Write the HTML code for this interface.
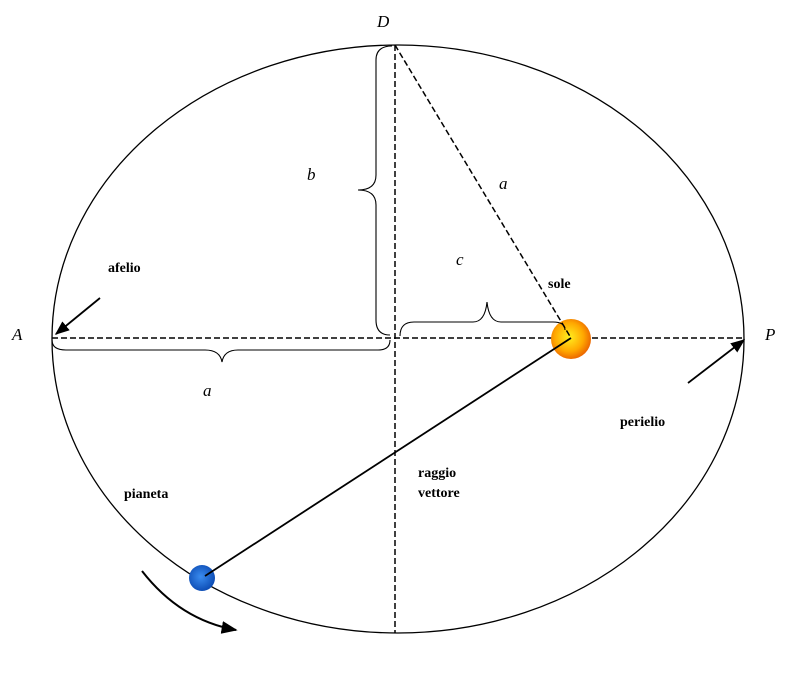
<!DOCTYPE html>
<html><head><meta charset="utf-8"><style>
html,body{margin:0;padding:0;background:#fff}
svg{display:block}
.it{font-family:"Liberation Serif",serif;font-style:italic;font-size:17px}
.lb{font-family:"Liberation Serif",serif;font-size:14px;font-weight:bold}
</style></head><body>
<svg width="800" height="678" viewBox="0 0 800 678">
<defs>
<radialGradient id="sun" cx="0.45" cy="0.45" r="0.6"><stop offset="0" stop-color="#ffef20"/><stop offset="0.6" stop-color="#ffa800"/><stop offset="1" stop-color="#e85a00"/></radialGradient>
<radialGradient id="pl" cx="0.45" cy="0.45" r="0.6"><stop offset="0" stop-color="#3a8cf0"/><stop offset="1" stop-color="#0a48b0"/></radialGradient>
<marker id="ah" viewBox="0 0 10 10" refX="9" refY="5" markerWidth="8" markerHeight="8" orient="auto"><path d="M0,1 L10,5 L0,9 Z" fill="#000"/></marker>
</defs>
<ellipse cx="398" cy="339" rx="346" ry="294" fill="none" stroke="#000" stroke-width="1.3"/>
<line x1="52" y1="338" x2="745" y2="338" stroke="#000" stroke-width="1.5" stroke-dasharray="6,3"/>
<line x1="395" y1="45" x2="395" y2="633" stroke="#000" stroke-width="1.5" stroke-dasharray="6,3"/>
<circle cx="571" cy="339" r="20" fill="url(#sun)"/>
<circle cx="202" cy="578" r="13" fill="url(#pl)"/>
<line x1="395" y1="45" x2="571" y2="338" stroke="#000" stroke-width="1.5" stroke-dasharray="6,3"/>
<line x1="571" y1="338" x2="205" y2="576" stroke="#000" stroke-width="1.8"/>
<path d="M392,46 Q376,46 376,60 L376,175 Q376,190 358,190 Q376,190 376,205 L376,320 Q376,335 390,335" fill="none" stroke="#000" stroke-width="1.1"/>
<path d="M52,340 Q52,350 66,350 L205,350 Q220,350 222,362 Q224,350 238,350 L378,350 Q390,350 390,340" fill="none" stroke="#000" stroke-width="1.1"/>
<path d="M400,336 Q400,322 414,322 L473,322 Q485,322 487,302 Q489,322 501,322 L553,322 Q565,322 565,330" fill="none" stroke="#000" stroke-width="1.1"/>
<line x1="100" y1="298" x2="56" y2="334" stroke="#000" stroke-width="1.8" marker-end="url(#ah)"/>
<line x1="688" y1="383" x2="744" y2="340" stroke="#000" stroke-width="1.8" marker-end="url(#ah)"/>
<path d="M142,571 Q180,620 236,630" fill="none" stroke="#000" stroke-width="2" marker-end="url(#ah)"/>
<text class="it" x="377" y="27">D</text>
<text class="it" x="12" y="340">A</text>
<text class="it" x="765" y="340">P</text>
<text class="it" x="307" y="180">b</text>
<text class="it" x="499" y="189">a</text>
<text class="it" x="456" y="265">c</text>
<text class="it" x="203" y="396">a</text>
<text class="lb" x="108" y="272">afelio</text>
<text class="lb" x="548" y="288">sole</text>
<text class="lb" x="620" y="426">perielio</text>
<text class="lb" x="124" y="498">pianeta</text>
<text class="lb" x="418" y="477">raggio<tspan x="418" dy="20">vettore</tspan></text>
</svg>
</body></html>
